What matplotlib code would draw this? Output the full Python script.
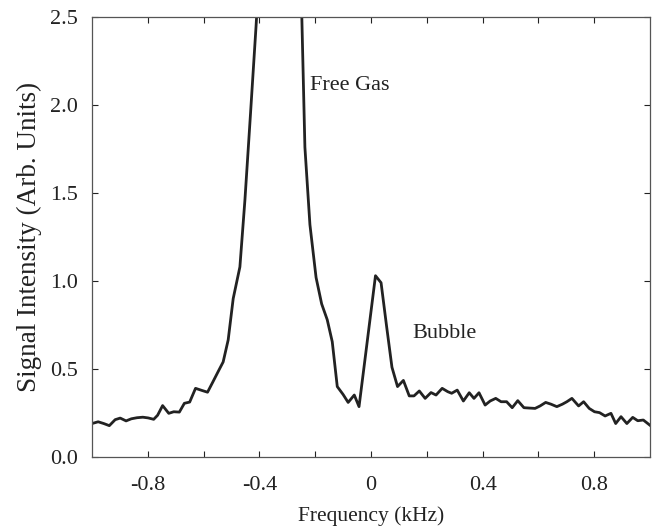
import matplotlib
matplotlib.use("Agg")
import matplotlib.pyplot as plt

# values (kHz, arb. units)
freq = [-1.000, -0.978, -0.958, -0.938, -0.917, -0.899, -0.878, -0.859, -0.839, -0.818,
        -0.799, -0.779, -0.765, -0.747, -0.725, -0.707, -0.687, -0.669, -0.650, -0.629,
        -0.606, -0.586, -0.567, -0.548, -0.530, -0.512, -0.494, -0.470, -0.452, -0.432,
        -0.412, -0.392, -0.372, -0.352, -0.332, -0.312, -0.292, -0.277, -0.257, -0.237,
        -0.219, -0.197, -0.177, -0.157, -0.139, -0.121, -0.100, -0.082, -0.060, -0.043,
        -0.022, -0.003, 0.016, 0.036, 0.056, 0.075, 0.095, 0.116, 0.137, 0.154,
        0.173, 0.194, 0.215, 0.233, 0.255, 0.275, 0.289, 0.309, 0.331, 0.352,
        0.369, 0.387, 0.409, 0.427, 0.447, 0.466, 0.486, 0.506, 0.526, 0.548,
        0.567, 0.588, 0.606, 0.626, 0.645, 0.666, 0.686, 0.702, 0.720, 0.744,
        0.762, 0.782, 0.801, 0.819, 0.839, 0.860, 0.877, 0.896, 0.917, 0.938,
        0.956, 0.976, 1.000]
signal = [0.190, 0.200, 0.190, 0.178, 0.212, 0.221, 0.205, 0.217, 0.223, 0.226,
          0.222, 0.214, 0.237, 0.292, 0.248, 0.257, 0.255, 0.305, 0.312, 0.390,
          0.378, 0.368, 0.426, 0.485, 0.540, 0.665, 0.900, 1.080, 1.460, 1.950,
          2.450, 3.000, 3.800, 4.500, 5.000, 5.000, 4.500, 3.900, 3.100, 1.760,
          1.320, 1.020, 0.870, 0.780, 0.655, 0.400, 0.355, 0.310, 0.352, 0.286,
          0.550, 0.790, 1.030, 0.990, 0.740, 0.510, 0.400, 0.435, 0.347, 0.347,
          0.375, 0.333, 0.366, 0.352, 0.390, 0.371, 0.362, 0.380, 0.318, 0.365,
          0.333, 0.365, 0.295, 0.318, 0.333, 0.314, 0.314, 0.280, 0.320, 0.280,
          0.278, 0.276, 0.290, 0.310, 0.300, 0.286, 0.300, 0.314, 0.333, 0.290,
          0.314, 0.276, 0.257, 0.252, 0.233, 0.248, 0.190, 0.229, 0.190, 0.225,
          0.206, 0.210, 0.180]

xticks = [-0.8, -0.6, -0.4, -0.2, 0.0, 0.2, 0.4, 0.6, 0.8]
xticklabels = ["-0.8", "", "-0.4", "", "0", "", "0.4", "", "0.8"]
yticks = [0.0, 0.5, 1.0, 1.5, 2.0, 2.5]
yticklabels = ["0.0", "0.5", "1.0", "1.5", "2.0", "2.5"]

plt.rcParams["font.family"] = ["Liberation Serif", "DejaVu Serif"]
plt.rcParams["font.size"] = 16

fig = plt.figure(figsize=(6.55, 5.31), dpi=100)
ax = fig.add_axes([0.1405, 0.1394, 0.8519, 0.8286])

ax.plot(freq, signal, color="#222222", linewidth=2.0)

ax.set_xlim(-1.0, 1.0)
ax.set_ylim(0.0, 2.5)
ax.set_xticks(xticks)
ax.set_xticklabels(xticklabels)
ax.set_yticks(yticks)
ax.set_yticklabels(yticklabels)
ax.tick_params(direction="in", top=True, right=True, length=4, width=0.8,
               labelsize=16, colors="#222222")
ax.tick_params(axis="x", pad=14)
ax.tick_params(axis="y", pad=10)
for s in ax.spines.values():
    s.set_color("#555555")
    s.set_linewidth(0.9)

ax.set_xlabel("Frequency (kHz)", fontsize=15.5, labelpad=8, color="#222222")
ax.set_ylabel("Signal Intensity (Arb. Units)", fontsize=19.5, labelpad=6, color="#222222")

ax.text(-0.218, 2.085, "Free Gas", fontsize=16, color="#222222")
ax.text(0.149, 0.676, "Bubble", fontsize=16, color="#222222")

fig.savefig("out.png", dpi=100)
